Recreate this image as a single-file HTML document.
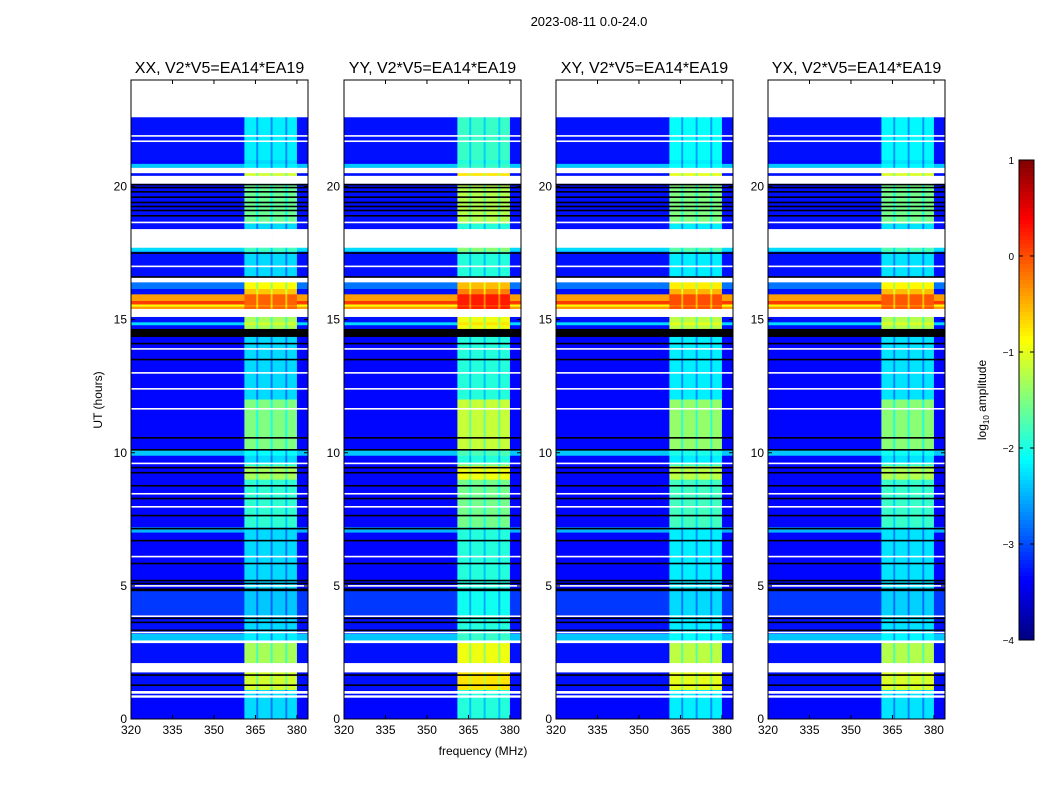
<!DOCTYPE html>
<html><head><meta charset="utf-8"><style>
body{margin:0;background:#fff;}
svg{display:block;font-family:"Liberation Sans","DejaVu Sans",sans-serif;}
</style></head><body>
<svg id="c" width="1050" height="800" viewBox="0 0 1050 800">
<text x="589" y="26" font-size="13" text-anchor="middle">2023-08-11 0.0-24.0</text>
<text x="483" y="755" font-size="12" text-anchor="middle">frequency (MHz)</text>
<text transform="translate(102,400) rotate(-90)" font-size="12" text-anchor="middle">UT (hours)</text>
<text transform="translate(986,400) rotate(-90)" font-size="12" text-anchor="middle">log<tspan font-size="8" dy="3">10</tspan><tspan dy="-3"> amplitude</tspan></text>
</svg>
<script>
const panelTitles=["XX, V2*V5=EA14*EA19","YY, V2*V5=EA14*EA19","XY, V2*V5=EA14*EA19","YX, V2*V5=EA14*EA19"];
const panelBandBoost=[-0.3,0.05,-0.2,-0.25];
const xTicks=[320,335,350,365,380];
const yTicks=[0,5,10,15,20];
const cbTicks=[1,0,-1,-2,-3,-4];
// time segments: start hour, end hour, background level, band level (null = flagged/white, "k" = black)
const segStart=[0,22.6,21.0,20.7,20.5,20.4,20.1,18.6,18.4,17.7,17.55,16.6,16.4,16.15,15.95,15.4,15.6,15.5,15.1,14.65,14.8,14.35,12.0,10.1,9.9,7.2,9.0,7.0,4.9,4.8,3.9,3.2,2.95,2.85,2.1,1.75,1.1,0.8,0.9,0];
const segEnd  =[22.6,24,22.6,20.85,20.7,20.5,20.4,20.1,18.6,18.4,17.7,17.55,16.6,16.4,16.15,15.95,15.7,15.55,15.4,15.1,14.9,14.65,14.35,12.0,10.1,9.6,9.5,7.2,7.0,4.9,4.8,3.9,3.2,2.95,2.85,2.1,1.75,1.05,0.95,0.8];
const segBg   =[-3.35,null,-3.3,-2.4,null,-3.3,null,-3.3,-3.3,null,-2.3,-3.3,null,-2.8,-3.3,-0.4,0.1,-0.9,null,-3.3,-2.3,"k",-3.35,-3.35,-2.4,-3.35,-3.35,-2.5,-3.35,"k",-3.1,-3.3,-2.4,null,-3.3,null,-3.3,null,-3.3,-3.35];
const segBand =[-2.0,null,-1.9,-1.9,null,-0.8,null,-1.3,-2.0,null,-1.5,-2.0,null,-0.6,-0.3,0.2,0.2,0.0,null,-1.0,-0.8,"k",-2.0,-1.2,-1.8,-1.6,-1.0,-2.0,-2.0,"k",-2.1,-2.0,-1.9,null,-1.0,null,-0.8,null,-2.0,-2.0];
const blackLines=[20.07,19.96,19.8,19.6,19.4,19.25,19.1,18.9,17.5,16.6,14.1,13.5,10.56,10.11,9.44,9.25,8.76,8.28,7.64,7.15,6.7,5.84,5.2,5.09,3.78,3.63,3.33,1.65,1.27];
const whiteLines=[21.9,21.7,18.65,17.0,13.9,13.0,12.4,11.65,9.6,8.46,7.97,6.1,5.0,3.86,3.25];
// frequency columns: start MHz, end MHz, type (0 background, 1 band, 2 band gap)
const colStart=[320,361,365.3,366,370.5,371.2,375.8,376.5,380];
const colEnd  =[361,365.3,366,370.5,371.2,375.8,376.5,380,384];
const colType =[0,1,2,1,2,1,2,1,0];

const NS="http://www.w3.org/2000/svg";
const svg=document.getElementById('c');
const X0=[131,344,556,768],PW=177,YT=80,YB=719;
function xf(p,f){return X0[p]+(f-320)/(384-320)*PW;}
function yh(h){return YB-h*(YB-YT)/24;}
function jet(v){let t=Math.max(0,Math.min(1,(v+4)/5));
 const c=k=>Math.round(255*Math.max(0,Math.min(1,1.5-Math.abs(4*t-k))));
 return `rgb(${c(3)},${c(2)},${c(1)})`;}
function mk(tag,attrs,parent){const e=document.createElementNS(NS,tag);for(const k in attrs)e.setAttribute(k,attrs[k]);(parent||svg).appendChild(e);return e;}

for(let p=0;p<4;p++){
 const g=mk('g',{});
 
 
 mk('rect',{x:X0[p],y:YT,width:PW,height:YB-YT,fill:'#fff'},g);
 for(let s=0;s<segStart.length;s++){
  const y1=yh(segEnd[s]),y2=yh(segStart[s]);
  for(let c=0;c<colStart.length;c++){
   let fill;
   if(segBg[s]===null) fill='#fff';
   else if(segBg[s]==='k') fill='#000';
   else{
    let v=colType[c]===0?segBg[s]:segBand[s]+panelBandBoost[p]-(colType[c]===2?0.5:0);
    fill=jet(v);
   }
   const r=mk('rect',{x:xf(p,colStart[c]),y:y1,width:xf(p,colEnd[c])-xf(p,colStart[c])+0.3,height:y2-y1+0.3,fill:fill},g);
   
   
  }
 }
 for(const h of blackLines){const l=mk('rect',{x:X0[p],y:yh(h)-0.8,width:PW,height:1.6,fill:'#000'},g);
  
  }
 for(const h of whiteLines){const l=mk('rect',{x:X0[p],y:yh(h)-0.8,width:PW,height:1.6,fill:'#fff'},g);
  
  }
 mk('rect',{x:X0[p],y:YT,width:PW,height:YB-YT,fill:'none',stroke:'#000','stroke-width':1},g);
 const t=mk('text',{x:X0[p]+PW/2,y:73,'font-size':16,'text-anchor':'middle'},g);t.textContent=panelTitles[p];
 
 
 for(const f of xTicks){const x=xf(p,f);
  mk('line',{x1:x,x2:x,y1:YB,y2:YB-4,stroke:'#000'},g);mk('line',{x1:x,x2:x,y1:YT,y2:YT+4,stroke:'#000'},g);
  const tl=mk('text',{x:x,y:YB+15,'font-size':12,'text-anchor':'middle'},g);tl.textContent=f;
  
  }
 for(const h of yTicks){const y=yh(h);
  mk('line',{x1:X0[p],x2:X0[p]+4,y1:y,y2:y,stroke:'#000'},g);mk('line',{x1:X0[p]+PW,x2:X0[p]+PW-4,y1:y,y2:y,stroke:'#000'},g);
  const tl=mk('text',{x:X0[p]-4,y:y+4,'font-size':12,'text-anchor':'end'},g);tl.textContent=h;
  
  }
}
// colorbar
const cb=mk('g',{});


const CT=160,CB=640,CX=1019,CW=15;
for(let i=0;i<120;i++){const v=1-5*(i+0.5)/120;
 mk('rect',{x:CX,y:CT+i*(CB-CT)/120,width:CW,height:(CB-CT)/120+0.5,fill:jet(v)},cb);}
mk('rect',{x:CX,y:CT,width:CW,height:CB-CT,fill:'none',stroke:'#000'},cb);
for(const v of cbTicks){const y=CT+(1-v)*(CB-CT)/5;
 mk('line',{x1:CX,x2:CX+4,y1:y,y2:y,stroke:'#000'},cb);mk('line',{x1:CX+CW,x2:CX+CW-4,y1:y,y2:y,stroke:'#000'},cb);
 const tl=mk('text',{x:CX-5,y:y+4,'font-size':10,'text-anchor':'end'},cb);tl.textContent=v<0?'\u2212'+(-v):v;
 
 }
</script>
</body></html>
